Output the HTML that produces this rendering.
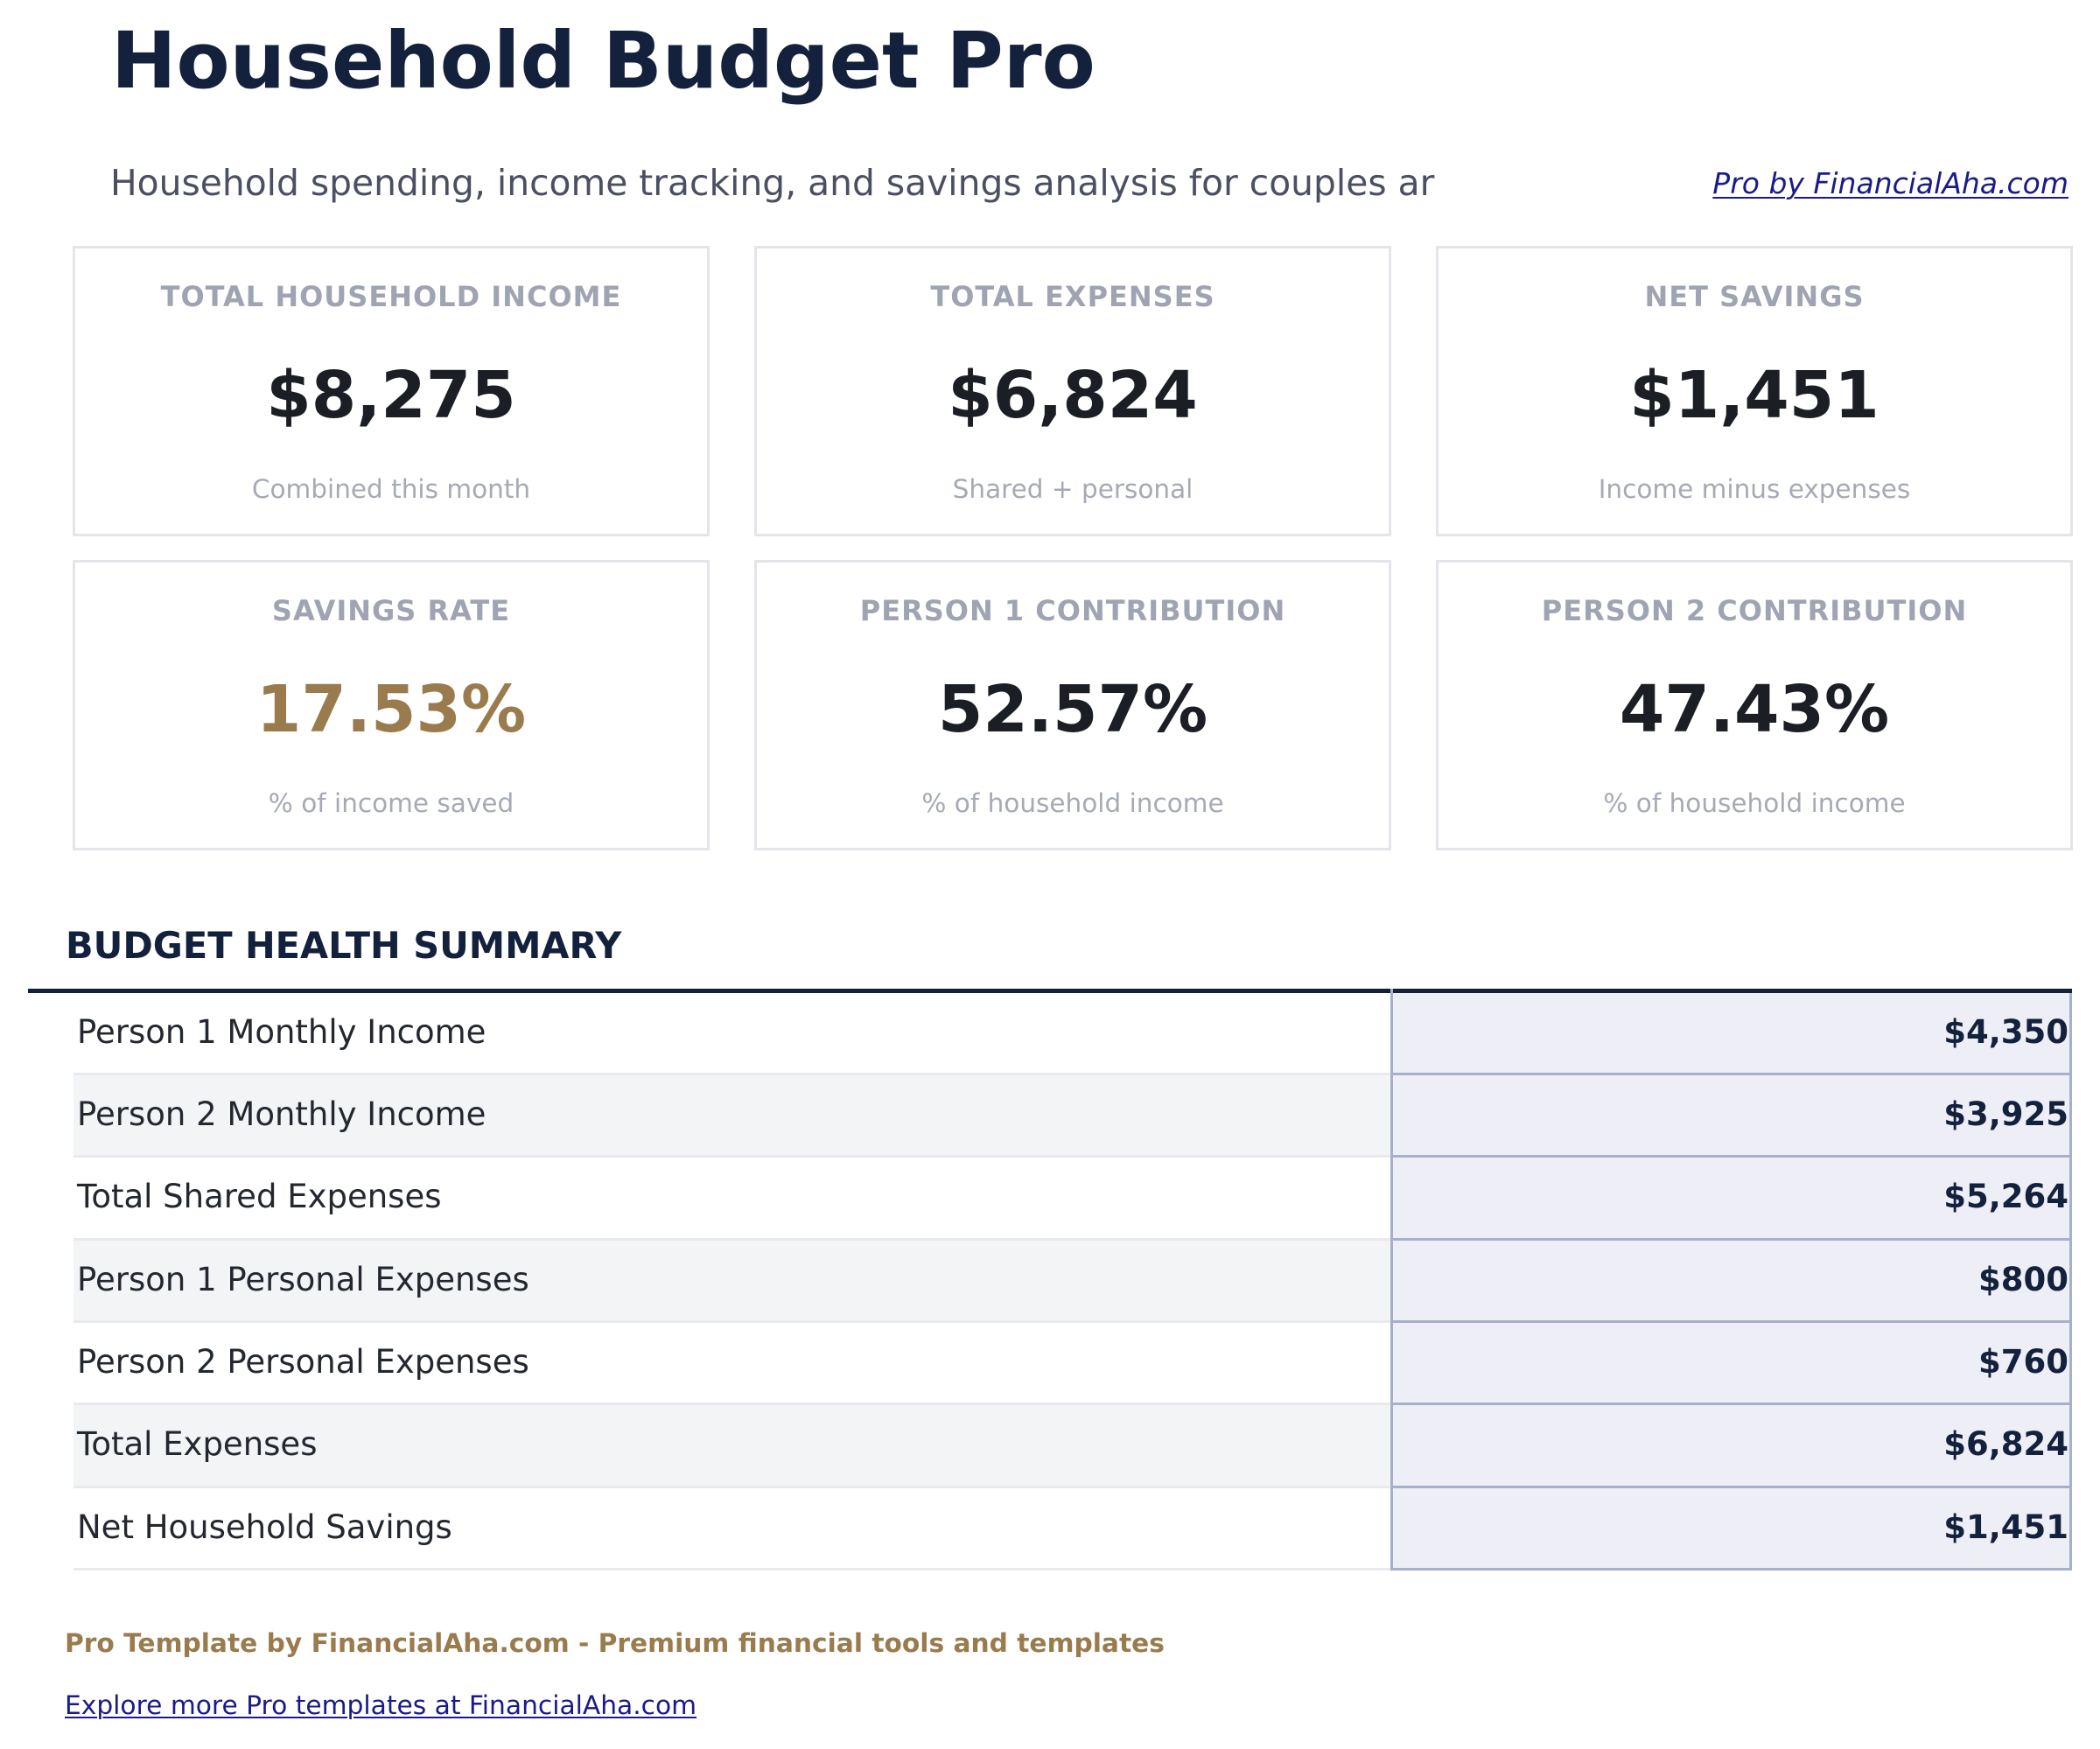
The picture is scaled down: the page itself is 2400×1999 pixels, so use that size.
<!DOCTYPE html>
<html>
<head>
<meta charset="utf-8">
<style>
  html, body { margin:0; padding:0; background:#ffffff; }
  body { width:2400px; height:1999px; overflow:hidden; position:relative;
         font-family:"DejaVu Sans","Liberation Sans",sans-serif; }
  .abs { position:absolute; white-space:nowrap; line-height:1; }
  .title { left:127px; top:25px; font-size:89px; font-weight:bold; color:#14213d; }
  .subtitle { left:126px; top:189px; font-size:40.8px; color:#4a5061; }
  .toplink { right:36px; top:193px; font-size:33px; font-style:italic; color:#1a1a8a; text-decoration:underline; text-decoration-thickness:2px; text-underline-offset:4px; }
  .card { position:absolute; box-sizing:border-box; width:728px; height:332px; border:3px solid #e3e5ea; background:#fff; }
  .card .lbl { position:absolute; left:0; right:0; text-align:center; top:39px; font-size:32px; letter-spacing:1px; font-weight:bold; color:#9fa4b2; line-height:1; white-space:nowrap; }
  .card .val { position:absolute; left:0; right:0; text-align:center; top:131px; font-size:74px; font-weight:bold; color:#1b1e24; line-height:1; white-space:nowrap; }
  .card .val.gold { color:#9a7b4d; }
  .card .sub { position:absolute; left:0; right:0; text-align:center; top:261px; font-size:29.5px; color:#a5aab5; line-height:1; white-space:nowrap; }
  .heading { left:75px; top:1060px; font-size:41.5px; font-weight:bold; color:#14213d; }
  .rect { position:absolute; }
  .rowlbl { position:absolute; left:88px; font-size:37px; color:#23272f; line-height:1; white-space:nowrap; }
  .rowval { position:absolute; right:36px; font-size:37px; font-weight:bold; color:#14213d; line-height:1; white-space:nowrap; }
  .foot1 { left:74px; top:1864px; font-size:29.7px; font-weight:bold; color:#9a7b4d; }
  .foot2 { left:74px; top:1935px; font-size:29.7px; color:#1a1a8a; text-decoration:underline; text-decoration-thickness:2px; text-underline-offset:3px; }
</style>
</head>
<body>

<div class="abs title">Household Budget Pro</div>
<div class="abs subtitle">Household spending, income tracking, and savings analysis for couples ar</div>
<div class="abs toplink">Pro by FinancialAha.com</div>

<!-- Row 1 cards -->
<div class="card" style="left:83px; top:281px;">
  <div class="lbl">TOTAL HOUSEHOLD INCOME</div>
  <div class="val">$8,275</div>
  <div class="sub">Combined this month</div>
</div>
<div class="card" style="left:862px; top:281px;">
  <div class="lbl">TOTAL EXPENSES</div>
  <div class="val">$6,824</div>
  <div class="sub">Shared + personal</div>
</div>
<div class="card" style="left:1641px; top:281px;">
  <div class="lbl">NET SAVINGS</div>
  <div class="val">$1,451</div>
  <div class="sub">Income minus expenses</div>
</div>

<!-- Row 2 cards -->
<div class="card" style="left:83px; top:640px;">
  <div class="lbl">SAVINGS RATE</div>
  <div class="val gold">17.53%</div>
  <div class="sub">% of income saved</div>
</div>
<div class="card" style="left:862px; top:640px;">
  <div class="lbl">PERSON 1 CONTRIBUTION</div>
  <div class="val">52.57%</div>
  <div class="sub">% of household income</div>
</div>
<div class="card" style="left:1641px; top:640px;">
  <div class="lbl">PERSON 2 CONTRIBUTION</div>
  <div class="val">47.43%</div>
  <div class="sub">% of household income</div>
</div>

<!-- Table -->
<div class="abs heading">BUDGET HEALTH SUMMARY</div>

<!-- value column background -->
<div class="rect" style="left:1589px; top:1135px; width:779px; height:660px; background:#eeeff6;"></div>

<!-- alternating gray label rows -->
<div class="rect" style="left:84px; top:1229px; width:1505px; height:91px; background:#f3f4f6;"></div>
<div class="rect" style="left:84px; top:1418px; width:1505px; height:91px; background:#f3f4f6;"></div>
<div class="rect" style="left:84px; top:1606px; width:1505px; height:92px; background:#f3f4f6;"></div>

<!-- label row borders -->
<div class="rect" style="left:84px; top:1226px; width:1505px; height:3px; background:#e8eaee;"></div>
<div class="rect" style="left:84px; top:1320px; width:1505px; height:3px; background:#e8eaee;"></div>
<div class="rect" style="left:84px; top:1415px; width:1505px; height:3px; background:#e8eaee;"></div>
<div class="rect" style="left:84px; top:1509px; width:1505px; height:3px; background:#e8eaee;"></div>
<div class="rect" style="left:84px; top:1603px; width:1505px; height:3px; background:#e8eaee;"></div>
<div class="rect" style="left:84px; top:1698px; width:1505px; height:3px; background:#e8eaee;"></div>
<div class="rect" style="left:84px; top:1792px; width:1505px; height:3px; background:#e8eaee;"></div>

<!-- value column borders -->
<div class="rect" style="left:1589px; top:1226px; width:779px; height:3px; background:#a6b0c8;"></div>
<div class="rect" style="left:1589px; top:1320px; width:779px; height:3px; background:#a6b0c8;"></div>
<div class="rect" style="left:1589px; top:1415px; width:779px; height:3px; background:#a6b0c8;"></div>
<div class="rect" style="left:1589px; top:1509px; width:779px; height:3px; background:#a6b0c8;"></div>
<div class="rect" style="left:1589px; top:1603px; width:779px; height:3px; background:#a6b0c8;"></div>
<div class="rect" style="left:1589px; top:1698px; width:779px; height:3px; background:#a6b0c8;"></div>
<div class="rect" style="left:1589px; top:1792px; width:779px; height:3px; background:#a6b0c8;"></div>

<!-- thick top line -->
<div class="rect" style="left:32px; top:1130px; width:2336px; height:5px; background:#14213d;"></div>

<div class="rect" style="left:1589px; top:1130px; width:3px; height:665px; background:#a6b0c8;"></div>
<div class="rect" style="left:2365px; top:1135px; width:3px; height:660px; background:#a6b0c8;"></div>

<!-- row text -->
<div class="rowlbl" style="top:1161px;">Person 1 Monthly Income</div>
<div class="rowval" style="top:1161px;">$4,350</div>

<div class="rowlbl" style="top:1255px;">Person 2 Monthly Income</div>
<div class="rowval" style="top:1255px;">$3,925</div>

<div class="rowlbl" style="top:1349px;">Total Shared Expenses</div>
<div class="rowval" style="top:1349px;">$5,264</div>

<div class="rowlbl" style="top:1444px;">Person 1 Personal Expenses</div>
<div class="rowval" style="top:1444px;">$800</div>

<div class="rowlbl" style="top:1538px;">Person 2 Personal Expenses</div>
<div class="rowval" style="top:1538px;">$760</div>

<div class="rowlbl" style="top:1632px;">Total Expenses</div>
<div class="rowval" style="top:1632px;">$6,824</div>

<div class="rowlbl" style="top:1727px;">Net Household Savings</div>
<div class="rowval" style="top:1727px;">$1,451</div>

<!-- footer -->
<div class="abs foot1">Pro Template by FinancialAha.com - Premium financial tools and templates</div>
<div class="abs foot2">Explore more Pro templates at FinancialAha.com</div>

</body>
</html>
